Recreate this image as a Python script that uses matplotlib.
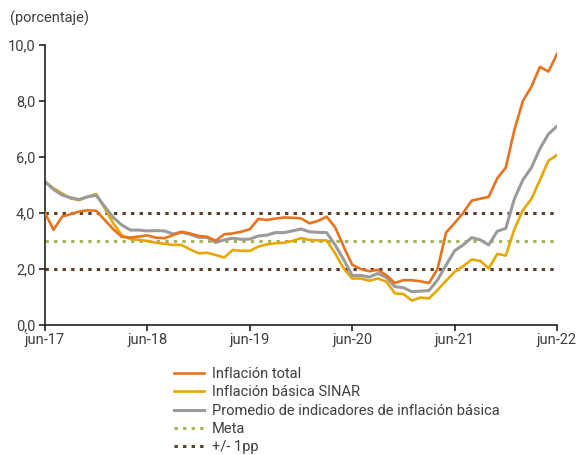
import numpy as np
import matplotlib
matplotlib.use('Agg')
import matplotlib.pyplot as plt

# monthly series, jun-17 .. jun-22 (61 points)
total = [4.0, 3.4, 3.87, 3.96, 4.05, 4.1, 4.08, 3.75, 3.42, 3.15, 3.12, 3.16,
         3.2, 3.12, 3.1, 3.21, 3.33, 3.27, 3.18, 3.15, 3.01, 3.24, 3.27, 3.33,
         3.42, 3.79, 3.75, 3.8, 3.84, 3.83, 3.81, 3.63, 3.72, 3.87, 3.49, 2.8,
         2.15, 2.0, 1.92, 1.97, 1.78, 1.5, 1.6, 1.6, 1.56, 1.5, 2.0, 3.3,
         3.64, 4.0, 4.44, 4.51, 4.58, 5.24, 5.62, 6.96, 8.0, 8.51, 9.22, 9.05,
         9.68]
sinar = [5.12, 4.88, 4.7, 4.52, 4.46, 4.58, 4.68, 4.17, 3.63, 3.21, 3.07, 3.04,
         3.0, 2.94, 2.9, 2.86, 2.86, 2.7, 2.56, 2.58, 2.5, 2.41, 2.68, 2.65,
         2.65, 2.8, 2.88, 2.92, 2.94, 3.0, 3.1, 3.04, 3.02, 3.02, 2.56, 2.02,
         1.66, 1.66, 1.58, 1.66, 1.55, 1.13, 1.11, 0.87, 0.98, 0.95, 1.25, 1.58,
         1.9, 2.1, 2.34, 2.29, 2.02, 2.54, 2.48, 3.42, 4.1, 4.5, 5.18, 5.87,
         6.07]
promedio = [5.12, 4.84, 4.64, 4.55, 4.48, 4.58, 4.63, 4.23, 3.84, 3.57, 3.39, 3.39,
            3.36, 3.37, 3.36, 3.25, 3.31, 3.24, 3.13, 3.13, 2.95, 3.04, 3.1, 3.06,
            3.07, 3.18, 3.21, 3.3, 3.3, 3.36, 3.43, 3.33, 3.31, 3.3, 2.86, 2.34,
            1.77, 1.77, 1.71, 1.84, 1.7, 1.37, 1.33, 1.19, 1.21, 1.23, 1.61, 2.14,
            2.65, 2.86, 3.12, 3.04, 2.86, 3.35, 3.45, 4.5, 5.18, 5.62, 6.3, 6.82,
            7.1]
meta = 3.0
banda = [2.0, 4.0]
xticklabels = ['jun-17', 'jun-18', 'jun-19', 'jun-20', 'jun-21', 'jun-22']

plt.rcParams['font.family'] = ['Roboto', 'DejaVu Sans']
txt = '#3f3f3f'
fs = 10.5

fig = plt.figure(figsize=(5.8, 4.55), dpi=100)
ax = fig.add_axes([45/580, 1-325/455, 512/580, 280/455])

x = np.arange(len(total))
dot = (0, (1.1, 1.7))
ax.plot([0, 60], [meta, meta], color='#a8b55c', lw=2.2, ls=dot, label='Meta')
for b in banda:
    ax.plot([0, 60], [b, b], color='#5e3b2c', lw=2.2, ls=dot,
            label='+/- 1pp' if b == banda[0] else None)

l1, = ax.plot(x, total, color='#e8731f', lw=1.9, label='Inflación total')
l2, = ax.plot(x, sinar, color='#e6a700', lw=1.9, label='Inflación básica SINAR')
l3, = ax.plot(x, promedio, color='#9b9b9b', lw=2.2,
              label='Promedio de indicadores de inflación básica')
l1.set_zorder(5)

ax.set_xlim(0, 60)
ax.set_ylim(0, 10)
ax.set_xticks(np.arange(0, 61, 12))
ax.set_xticklabels(xticklabels)
ax.set_yticks(np.arange(0, 11, 2))
ax.set_yticklabels(['%d,0' % v for v in range(0, 11, 2)])
for s in ['top', 'right']:
    ax.spines[s].set_visible(False)
for s in ['left', 'bottom']:
    ax.spines[s].set_color('#222222')
    ax.spines[s].set_linewidth(1.2)
ax.tick_params(axis='both', colors='#222222', labelcolor=txt, labelsize=fs,
               length=4, width=1.2, direction='out')
ax.tick_params(axis='y', pad=3)
ax.tick_params(axis='x', pad=2)

fig.text(10/580, 1-18/455, '(porcentaje)', color=txt, fontsize=fs, va='center')

h, lab = ax.get_legend_handles_labels()
order = [lab.index('Inflación total'), lab.index('Inflación básica SINAR'),
         lab.index('Promedio de indicadores de inflación básica'),
         lab.index('Meta'), lab.index('+/- 1pp')]
leg = fig.legend([h[i] for i in order], [lab[i] for i in order],
                 loc='upper left', bbox_to_anchor=(174/580, 1-367/455),
                 frameon=False, fontsize=fs, handlelength=2.05,
                 handletextpad=0.55, labelspacing=0.3, borderpad=0,
                 borderaxespad=0)
for t in leg.get_texts():
    t.set_color(txt)

fig.savefig('out.png', dpi=100)
